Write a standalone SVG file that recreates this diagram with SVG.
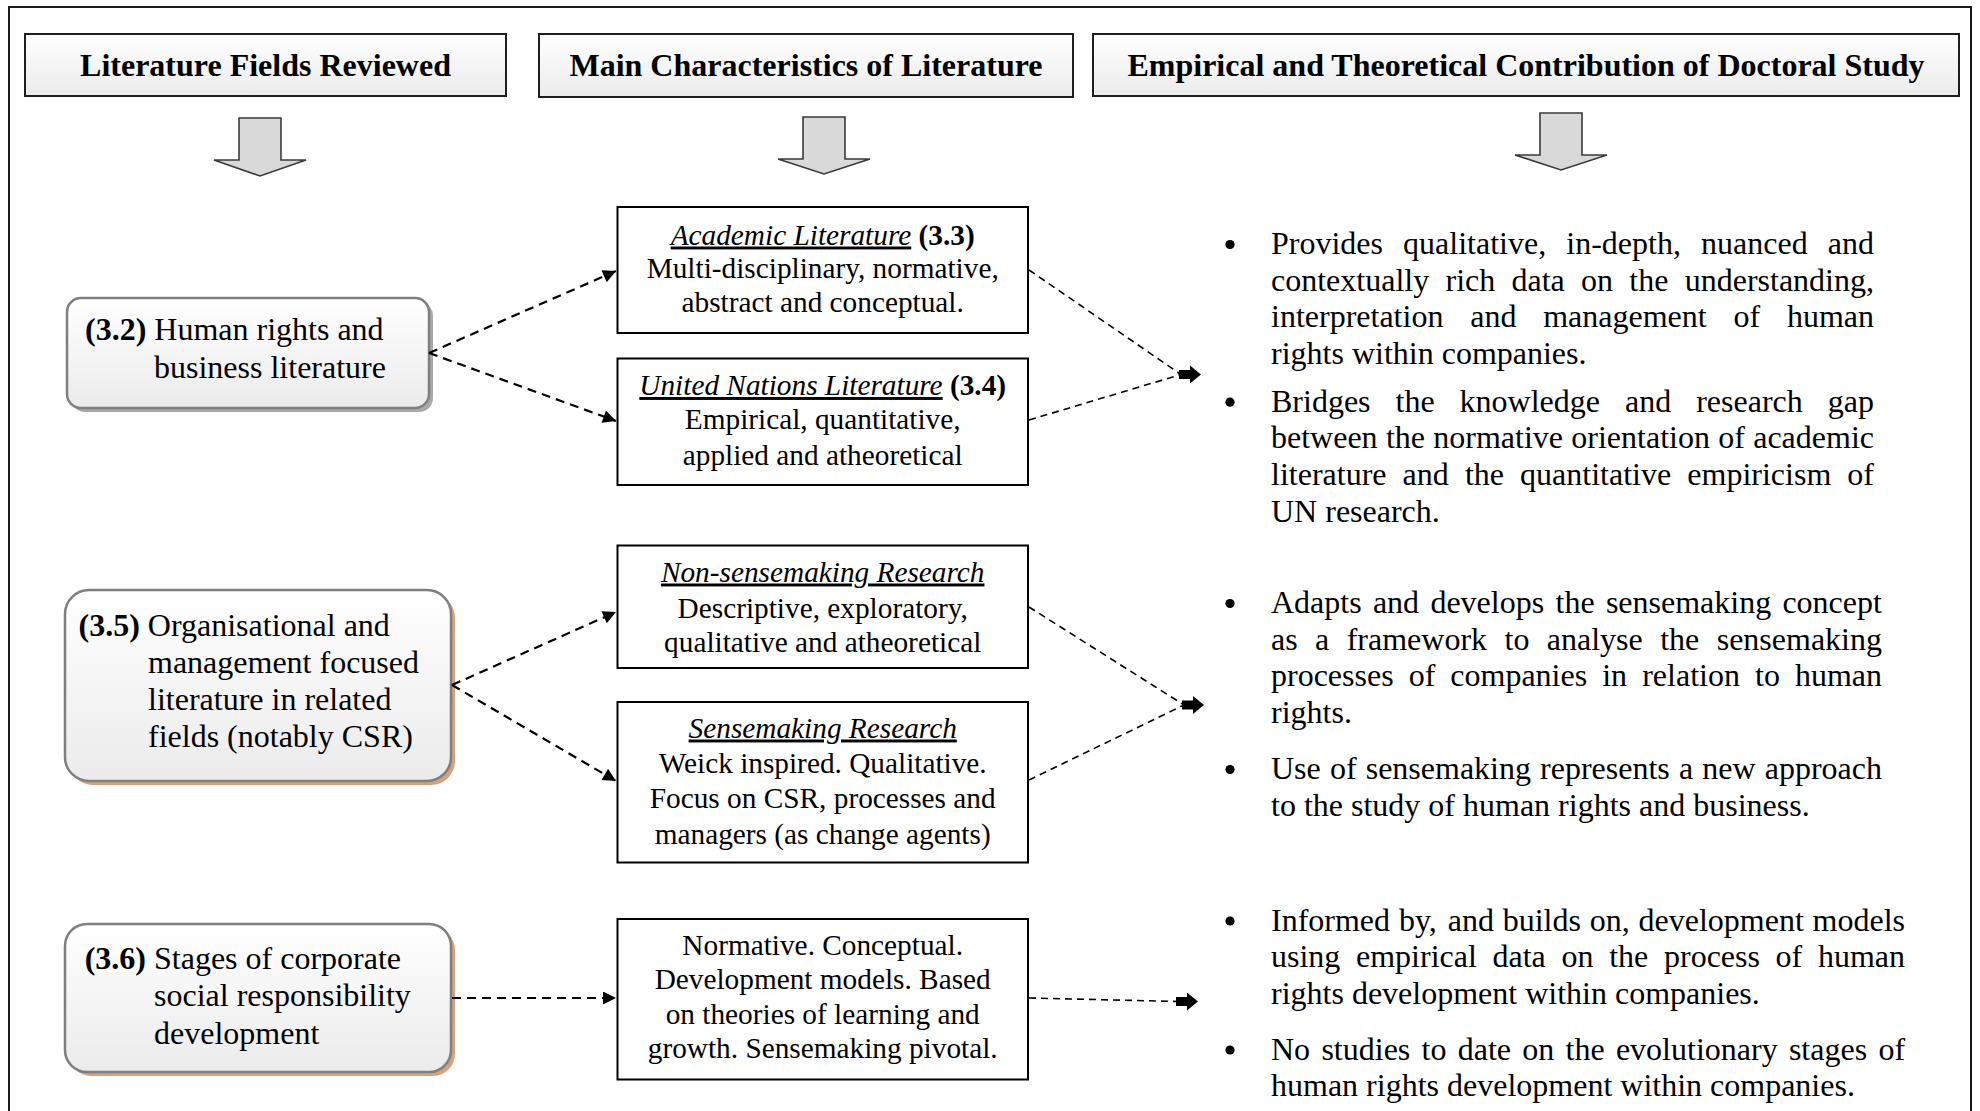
<svg xmlns="http://www.w3.org/2000/svg" width="1980" height="1111" viewBox="0 0 1980 1111">
  <defs>
    <linearGradient id="hdrFill" x1="0" y1="0" x2="0" y2="1">
      <stop offset="0" stop-color="#ffffff"/>
      <stop offset="1" stop-color="#ebebeb"/>
    </linearGradient>
    <linearGradient id="roundFill" x1="0" y1="0" x2="0" y2="1">
      <stop offset="0" stop-color="#ffffff"/>
      <stop offset="1" stop-color="#ebebeb"/>
    </linearGradient>
    <marker id="tri" viewBox="0 0 10 10" refX="10" refY="5" markerWidth="15" markerHeight="13" markerUnits="userSpaceOnUse" orient="auto">
      <path d="M0,0 L10,5 L0,10 Z" fill="#000"/>
    </marker>
  </defs>
  <style>
    text { font-family: "Liberation Serif", "Times New Roman", serif; fill: #000; }
    .hdr { font-size: 32px; font-weight: bold; text-anchor: middle; }
    .body { font-size: 32px; }
    .mid { font-size: 29.3px; text-anchor: middle; }
    .dot { fill: #000; }
    .hdrbox { fill: url(#hdrFill); stroke: #1f1f1f; stroke-width: 2; }
    .downarrow { fill: #d9d9d9; stroke: #3a3a3a; stroke-width: 1.6; stroke-linejoin: miter; }
    .rbox { fill: url(#roundFill); stroke: #7f7f7f; stroke-width: 2.5; }
    .shadow-grey { fill: #a9a9a9; }
    .shadow-tan { fill: #d4a27c; }
    .mbox { fill: #ffffff; stroke: #000; stroke-width: 2; }
    .link { fill: none; stroke: #000; stroke-width: 2.2; stroke-dasharray: 9 6; }
    .link2 { fill: none; stroke: #000; stroke-width: 1.6; stroke-dasharray: 7 5; }
    .bhead { fill: #000; }
    .ul { font-style: italic; text-decoration: underline; }
    .b { font-weight: bold; }
  </style>

  <rect width="1980" height="1111" fill="#ffffff"/>
  <!-- outer frame (bottom edge runs past the page) -->
  <rect x="9" y="7" width="1962" height="1130" fill="none" stroke="#1a1a1a" stroke-width="2"/>

  <!-- column headers -->
  <g id="hdr-fields">
    <rect class="hdrbox" x="25" y="34" width="481" height="62"/>
    <text class="hdr" x="265.5" y="75.5">Literature Fields Reviewed</text>
  </g>
  <g id="hdr-characteristics">
    <rect class="hdrbox" x="539" y="34" width="534" height="63"/>
    <text class="hdr" x="806" y="75.5">Main Characteristics of Literature</text>
  </g>
  <g id="hdr-contribution">
    <rect class="hdrbox" x="1093" y="34" width="866" height="62"/>
    <text class="hdr" x="1526" y="75.5">Empirical and Theoretical Contribution of Doctoral Study</text>
  </g>

  <!-- block arrows under the headers -->
  <g id="down-arrows">
    <path class="downarrow" d="M239,118 H281 V160 H306 L260,176 L214,160 H239 Z"/>
    <path class="downarrow" d="M803,117 H845 V159 H870 L824,174 L778,159 H803 Z"/>
    <path class="downarrow" d="M1540,113 H1582 V155 H1607 L1561,170 L1515,155 H1540 Z"/>
  </g>

  <!-- literature fields -->
  <g id="field-3-2">
    <rect class="shadow-grey" x="71" y="302" width="362" height="110" rx="14"/>
    <rect class="rbox" x="67" y="298" width="362" height="110" rx="14"/>
    <text class="body" x="85" y="340"><tspan class="b">(3.2)</tspan> Human rights and</text>
    <text class="body" x="154" y="378">business literature</text>
  </g>
  <g id="field-3-5">
    <rect class="shadow-tan" x="69" y="594" width="386" height="191" rx="24"/>
    <rect class="rbox" x="65" y="590" width="386" height="191" rx="24"/>
    <text class="body" x="78.5" y="636"><tspan class="b">(3.5)</tspan> Organisational and</text>
    <text class="body" x="148" y="673">management focused</text>
    <text class="body" x="148" y="709.5">literature in related</text>
    <text class="body" x="148" y="746.5">fields (notably CSR)</text>
  </g>
  <g id="field-3-6">
    <rect class="shadow-tan" x="69" y="928" width="386" height="148" rx="22"/>
    <rect class="rbox" x="65" y="924" width="386" height="148" rx="22"/>
    <text class="body" x="84.7" y="969"><tspan class="b">(3.6)</tspan> Stages of corporate</text>
    <text class="body" x="154" y="1006">social responsibility</text>
    <text class="body" x="154" y="1043.5">development</text>
  </g>

  <!-- characteristics -->
  <g id="char-academic">
    <rect class="mbox" x="617.5" y="207" width="410.5" height="126"/>
    <text class="mid" x="822.7" y="244.5"><tspan class="ul">Academic Literature</tspan><tspan class="b"> (3.3)</tspan></text>
    <text class="mid" x="822.7" y="277.5">Multi-disciplinary, normative,</text>
    <text class="mid" x="822.7" y="312">abstract and conceptual.</text>
  </g>
  <g id="char-un">
    <rect class="mbox" x="617.5" y="358.5" width="410.5" height="126.5"/>
    <text class="mid" x="822.7" y="395"><tspan class="ul">United Nations Literature</tspan><tspan class="b"> (3.4)</tspan></text>
    <text class="mid" x="822.7" y="428.5">Empirical, quantitative,</text>
    <text class="mid" x="822.7" y="464.5">applied and atheoretical</text>
  </g>
  <g id="char-nonsensemaking">
    <rect class="mbox" x="617.5" y="545.5" width="410.5" height="122.5"/>
    <text class="mid" x="822.7" y="581.5"><tspan class="ul">Non-sensemaking Research</tspan></text>
    <text class="mid" x="822.7" y="617.5">Descriptive, exploratory,</text>
    <text class="mid" x="822.7" y="651.5">qualitative and atheoretical</text>
  </g>
  <g id="char-sensemaking">
    <rect class="mbox" x="617.5" y="702" width="410.5" height="160.5"/>
    <text class="mid" x="822.7" y="737.5"><tspan class="ul">Sensemaking Research</tspan></text>
    <text class="mid" x="822.7" y="773">Weick inspired. Qualitative.</text>
    <text class="mid" x="822.7" y="808">Focus on CSR, processes and</text>
    <text class="mid" x="822.7" y="843.5">managers (as change agents)</text>
  </g>
  <g id="char-stages">
    <rect class="mbox" x="617.5" y="919" width="410.5" height="160.5"/>
    <text class="mid" x="822.7" y="954.5">Normative. Conceptual.</text>
    <text class="mid" x="822.7" y="989">Development models. Based</text>
    <text class="mid" x="822.7" y="1023.5">on theories of learning and</text>
    <text class="mid" x="822.7" y="1058">growth. Sensemaking pivotal.</text>
  </g>

  <!-- connectors -->
  <g id="connectors">
    <path class="link" d="M429,353 L616,271" marker-end="url(#tri)"/>
    <path class="link" d="M429,353 L616,421" marker-end="url(#tri)"/>
    <path class="link" d="M452,685 L616,612" marker-end="url(#tri)"/>
    <path class="link" d="M452,685 L616,781" marker-end="url(#tri)"/>
    <path class="link" d="M452,998 L616,998" marker-end="url(#tri)"/>

    <path class="link2" d="M1029,270 L1181,374.5"/>
    <path class="link2" d="M1029,420 L1181,374.5"/>
    <path class="bhead" d="M1179,370 H1190 V365.5 L1201,374.5 L1190,383.5 V379 H1179 Z"/>

    <path class="link2" d="M1029,607 L1184,705"/>
    <path class="link2" d="M1029,780 L1184,705"/>
    <path class="bhead" d="M1182,700.5 H1193 V696 L1204,705 L1193,714 V709.5 H1182 Z"/>

    <path class="link2" d="M1029,998 L1178,1001.5"/>
    <path class="bhead" d="M1176,997 H1187 V992.5 L1198,1001.5 L1187,1010.5 V1006 H1176 Z"/>
  </g>

  <!-- contributions -->
  <g id="contrib-1">
    <circle class="dot" cx="1230" cy="244.5" r="4.6"/>
    <text class="body" y="254"><tspan x="1271">Provides</tspan> <tspan x="1403.1">qualitative,</tspan> <tspan x="1566.3">in-depth,</tspan> <tspan x="1701.1">nuanced</tspan> <tspan x="1827.8">and</tspan></text>
    <text class="body" y="290.7"><tspan x="1271">contextually</tspan> <tspan x="1445.5">rich</tspan> <tspan x="1511.5">data</tspan> <tspan x="1581">on</tspan> <tspan x="1629.3">the</tspan> <tspan x="1684.7">understanding,</tspan></text>
    <text class="body" y="327.4"><tspan x="1271">interpretation</tspan> <tspan x="1470.2">and</tspan> <tspan x="1543.2">management</tspan> <tspan x="1733.5">of</tspan> <tspan x="1786.9">human</tspan></text>
    <text class="body" x="1271" y="364.1">rights within companies.</text>

    <circle class="dot" cx="1230" cy="402.2" r="4.6"/>
    <text class="body" y="411.7"><tspan x="1271">Bridges</tspan> <tspan x="1395.5">the</tspan> <tspan x="1459.6">knowledge</tspan> <tspan x="1625">and</tspan> <tspan x="1696.2">research</tspan> <tspan x="1827.8">gap</tspan></text>
    <text class="body" y="448.4"><tspan x="1271">between</tspan> <tspan x="1385.9">the</tspan> <tspan x="1433.3">normative</tspan> <tspan x="1571.3">orientation</tspan> <tspan x="1718.3">of</tspan> <tspan x="1753.2">academic</tspan></text>
    <text class="body" y="485.1"><tspan x="1271">literature</tspan> <tspan x="1402.6">and</tspan> <tspan x="1464.9">the</tspan> <tspan x="1520.1">quantitative</tspan> <tspan x="1687.3">empiricism</tspan> <tspan x="1847.3">of</tspan></text>
    <text class="body" x="1271" y="521.8">UN research.</text>
  </g>

  <g id="contrib-2">
    <circle class="dot" cx="1230" cy="603.5" r="4.6"/>
    <text class="body" y="613"><tspan x="1271">Adapts</tspan> <tspan x="1372.9">and</tspan> <tspan x="1430.4">develops</tspan> <tspan x="1555.5">the</tspan> <tspan x="1605.9">sensemaking</tspan> <tspan x="1782.4">concept</tspan></text>
    <text class="body" y="649.7"><tspan x="1271">as</tspan> <tspan x="1315.1">a</tspan> <tspan x="1346.7">framework</tspan> <tspan x="1504.5">to</tspan> <tspan x="1546.8">analyse</tspan> <tspan x="1660.2">the</tspan> <tspan x="1716.7">sensemaking</tspan></text>
    <text class="body" y="686.4"><tspan x="1271">processes</tspan> <tspan x="1408.7">of</tspan> <tspan x="1450.3">companies</tspan> <tspan x="1602.2">in</tspan> <tspan x="1642.2">relation</tspan> <tspan x="1755">to</tspan> <tspan x="1794.9">human</tspan></text>
    <text class="body" x="1271" y="723.1">rights.</text>

    <circle class="dot" cx="1230" cy="769.5" r="4.6"/>
    <text class="body" y="779"><tspan x="1271">Use</tspan> <tspan x="1329.9">of</tspan> <tspan x="1365.7">sensemaking</tspan> <tspan x="1540.1">represents</tspan> <tspan x="1678.9">a</tspan> <tspan x="1702.3">new</tspan> <tspan x="1764.7">approach</tspan></text>
    <text class="body" x="1271" y="815.7">to the study of human rights and business.</text>
  </g>

  <g id="contrib-3">
    <circle class="dot" cx="1230" cy="921" r="4.6"/>
    <text class="body" y="930.5"><tspan x="1271">Informed</tspan> <tspan x="1398.9">by,</tspan> <tspan x="1447.7">and</tspan> <tspan x="1502.7">builds</tspan> <tspan x="1589.7">on,</tspan> <tspan x="1638.5">development</tspan> <tspan x="1812.6">models</tspan></text>
    <text class="body" y="967.2"><tspan x="1271">using</tspan> <tspan x="1356">empirical</tspan> <tspan x="1492.5">data</tspan> <tspan x="1561.5">on</tspan> <tspan x="1609.2">the</tspan> <tspan x="1664">process</tspan> <tspan x="1775.6">of</tspan> <tspan x="1817.9">human</tspan></text>
    <text class="body" x="1271" y="1003.9">rights development within companies.</text>

    <circle class="dot" cx="1230" cy="1050" r="4.6"/>
    <text class="body" y="1059.5"><tspan x="1271">No</tspan> <tspan x="1321.4">studies</tspan> <tspan x="1421.5">to</tspan> <tspan x="1457.7">date</tspan> <tspan x="1522.3">on</tspan> <tspan x="1565.5">the</tspan> <tspan x="1615.9">evolutionary</tspan> <tspan x="1788.9">stages</tspan> <tspan x="1878.4">of</tspan></text>
    <text class="body" x="1271" y="1096.2">human rights development within companies.</text>
  </g>
</svg>
